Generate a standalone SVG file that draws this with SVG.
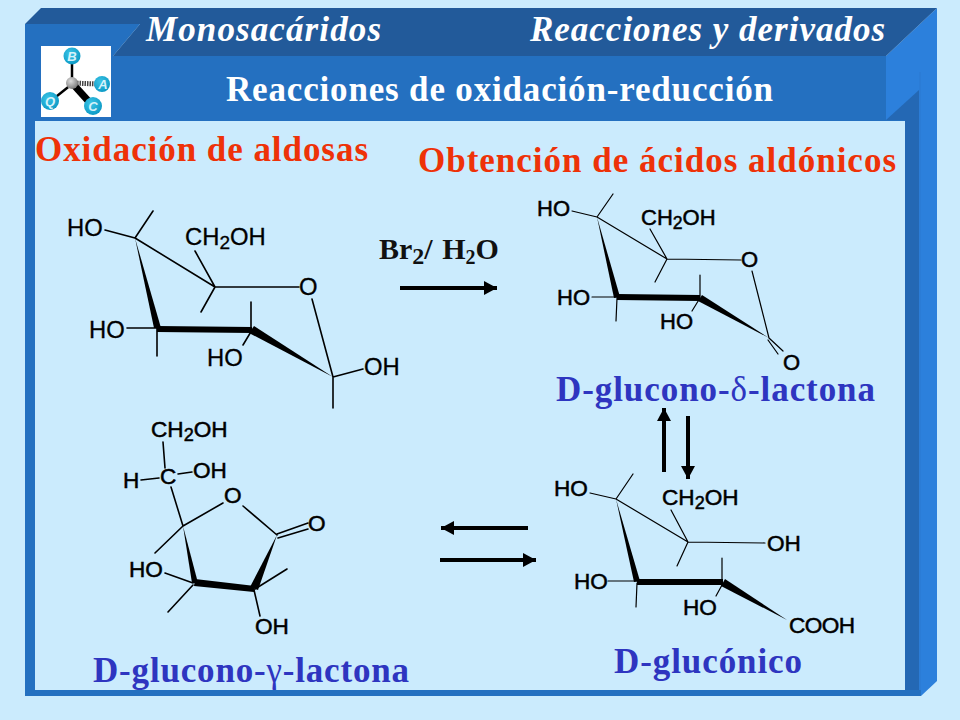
<svg xmlns="http://www.w3.org/2000/svg" width="960" height="720" viewBox="0 0 960 720">
<style>
.s{font-family:"Liberation Serif","Times New Roman",serif;font-weight:bold}
.w{fill:#fff}.wi{fill:#fff;font-style:italic}
.r{fill:#ee3208}.b{fill:#2e35c0}
.g{font-weight:normal}
.c{font-family:"Liberation Sans",Arial,sans-serif;font-size:23.8px;fill:#000;stroke:#000;stroke-width:.3}
.c2{font-size:22px;stroke-width:.5}
.c3{font-size:22.6px;stroke-width:.5}
.sub{font-size:.8em}
.l{stroke:#000;stroke-width:1.6;fill:none;stroke-linecap:round}
.l2{stroke-width:1.2}
.bd{stroke:#000;stroke-width:6;fill:none}
.ar{stroke:#000;stroke-width:4;fill:none}
</style>
<defs>
<marker id="h" markerUnits="userSpaceOnUse" markerWidth="15" markerHeight="16" refX="13" refY="8" orient="auto"><path d="M0 1L13 8L0 15Z" fill="#000"/></marker>
<radialGradient id="ball" cx=".4" cy=".35" r=".7"><stop offset="0" stop-color="#3cc4e6"/><stop offset="1" stop-color="#0a98c4"/></radialGradient>
<radialGradient id="gr" cx=".4" cy=".35" r=".7"><stop offset="0" stop-color="#ddd"/><stop offset="1" stop-color="#777"/></radialGradient>
</defs>
<rect width="960" height="720" fill="#cbebfd"/>
<g id="frame">
<polygon points="886,56 937,8 937,681 921,696 886,696" fill="#2c80dc"/>
<line x1="920" y1="72" x2="920" y2="696" stroke="#2a78d0" stroke-width="1"/>
<polygon points="886,120 919,90 919,696 886,696" fill="#2468b4"/>
<polygon points="25,24 140,24 113,56 886,56 886,120 905,120 905,690 921,690 921,696 25,696" fill="#2470c0"/>
<polygon points="25,24 41,8 937,8 886,56 113,56 140,24" fill="#225a9a"/>
<rect x="35" y="121" width="870" height="569" fill="#cbebfd"/>
</g>
<g id="logo">
<rect x="41" y="46" width="70" height="71" fill="#fff"/>
<line x1="72" y1="84" x2="72" y2="60" stroke="#000" stroke-width="2.5"/>
<line x1="72" y1="84" x2="52" y2="100" stroke="#000" stroke-width="2.5"/>
<polygon points="70,86 75,81 94,102 88,106" fill="#000"/>
<line x1="72" y1="83" x2="98" y2="84" stroke="#444" stroke-width="5" stroke-dasharray="1.5 1"/>
<circle cx="72" cy="56" r="8.5" fill="url(#ball)"/>
<circle cx="102" cy="84" r="8" fill="url(#ball)"/>
<circle cx="50" cy="101" r="9" fill="url(#ball)"/>
<circle cx="93" cy="106" r="9" fill="url(#ball)"/>
<circle cx="72" cy="83" r="6" fill="url(#gr)"/>
<g font-family="Liberation Sans,Arial,sans-serif" font-weight="bold" font-style="italic" font-size="13" fill="#d5f2fa" text-anchor="middle">
<text x="72" y="61">B</text><text x="103" y="89">A</text><text x="50" y="106">Q</text><text x="93" y="111">C</text>
</g>
</g>
<g id="titles" class="s">
<text class="wi" x="146" y="41" font-size="35" textLength="235" lengthAdjust="spacing">Monosacáridos</text>
<text class="wi" x="530" y="41" font-size="35" textLength="355" lengthAdjust="spacing">Reacciones y derivados</text>
<text class="w" x="226" y="101" font-size="35" textLength="547" lengthAdjust="spacing">Reacciones de oxidación-reducción</text>
<text class="r" x="35" y="161" font-size="35" textLength="333" lengthAdjust="spacing">Oxidación de aldosas</text>
<text class="r" x="418" y="172" font-size="35" textLength="478" lengthAdjust="spacing">Obtención de ácidos aldónicos</text>
</g>
<g id="reagent" class="s"><text x="379" y="259" font-size="30" fill="#111" word-spacing="2">Br<tspan class="sub" font-size="20" dy="5">2</tspan><tspan dy="-5">/ H</tspan><tspan font-size="20" dy="5">2</tspan><tspan dy="-5">O</tspan></text></g>
<g id="aldosa">
<g class="l">
<path d="M105 230L135 238M135 238L153 211M135 238L215 287M195 251L215 287M215 287L201 312M215 287H299M127 328H157M157 328V356M251 302V330M252 330L243 345M312 299L333 377M333 377L363 369M333 377V408"/>
</g>
<polygon points="135,238 154,328 161,328" fill="#000"/>
<path class="bd" d="M157 329L252 330"/>
<polygon points="249,333 254,326 333,377" fill="#000"/>
<text class="c" x="67" y="236">HO</text>
<text class="c" x="185" y="245">CH<tspan class="sub" dy="4">2</tspan><tspan dy="-4">OH</tspan></text>
<text class="c" x="299" y="295">O</text>
<text class="c" x="89" y="338">HO</text>
<text class="c" x="207" y="366">HO</text>
<text class="c" x="364" y="375">OH</text>
</g>
<g id="delta-lactona">
<g class="l l2">
<path d="M572 211L597 217M597 217L613 194M597 217L667 259M650 229L667 259M667 259L655 282M667 259L741 260M592 297H617M617 298L616 321M700 275V298M700 298L692 311M752 271L769 338M769 338L783 351M768 340L778 354"/>
</g>
<polygon points="597,217 614,298 620,297" fill="#000"/>
<path class="bd" d="M617 297L700 298"/>
<polygon points="698,301 702,295 769,338" fill="#000"/>
<text class="c c2" x="537" y="216">HO</text>
<text class="c c2" x="641" y="225">CH<tspan class="sub" dy="4">2</tspan><tspan dy="-4">OH</tspan></text>
<text class="c c2" x="741" y="267">O</text>
<text class="c c2" x="557" y="305">HO</text>
<text class="c c2" x="660" y="329">HO</text>
<text class="c c2" x="783" y="370">O</text>
</g>
<text class="s b" x="556" y="401" font-size="35" textLength="319" lengthAdjust="spacing">D-glucono-<tspan class="g">δ</tspan>-lactona</text>
<g id="gamma-lactona">
<g class="l">
<path d="M163 442L165 468M141 480L159 478M178 474L192 472M171 487L183 526M183 526L223 503M243 506L277 535M277 534L308 523M278 538L308 529M255 589L287 569M254 590L260 616M155 553L183 526M165 573L193 583M193 585L168 612"/>
</g>
<polygon points="183,526 192,583 198,583" fill="#000"/>
<polygon points="195,579 194,586 254,592 255,586" fill="#000"/>
<polygon points="277,535 250,587 258,590" fill="#000"/>
<text class="c c3" x="151" y="437">CH<tspan class="sub" dy="4">2</tspan><tspan dy="-4">OH</tspan></text>
<text class="c c3" x="123" y="488">H</text>
<text class="c c3" x="160" y="484">C</text>
<text class="c c3" x="193" y="478">OH</text>
<text class="c c3" x="224" y="503">O</text>
<text class="c c3" x="308" y="531">O</text>
<text class="c c3" x="129" y="577">HO</text>
<text class="c c3" x="255" y="634">OH</text>
</g>
<text class="s b" x="93" y="682" font-size="35" textLength="316" lengthAdjust="spacing">D-glucono-<tspan class="g">γ</tspan>-lactona</text>
<g id="gluconico">
<g class="l l2">
<path d="M590 493L616 499M616 499L633 474M616 499L688 542M671 510L688 542M688 542L677 566M688 542L765 543M608 581H637M637 583L636 607M722 558V582M722 585L716 596"/>
</g>
<polygon points="616,499 634,582 640,581" fill="#000"/>
<path class="bd" d="M637 582L723 582"/>
<polygon points="721,586 725,579 787,620" fill="#000"/>
<text class="c c3" x="554" y="496">HO</text>
<text class="c c3" x="662" y="505">CH<tspan class="sub" dy="4">2</tspan><tspan dy="-4">OH</tspan></text>
<text class="c c3" x="767" y="551">OH</text>
<text class="c c3" x="574" y="589">HO</text>
<text class="c c3" x="683" y="615">HO</text>
<text class="c c3" x="789" y="633" textLength="66">COOH</text>
</g>
<text class="s b" x="614" y="673" font-size="35" textLength="188" lengthAdjust="spacing">D-glucónico</text>
<g id="connectors">
<line class="ar" x1="400" y1="288" x2="497" y2="288" marker-end="url(#h)"/>
<line class="ar" x1="664" y1="472" x2="664" y2="408" marker-end="url(#h)"/>
<line class="ar" x1="688" y1="416" x2="688" y2="479" marker-end="url(#h)"/>
<line class="ar" x1="528" y1="528" x2="441" y2="528" marker-end="url(#h)"/>
<line class="ar" x1="440" y1="560" x2="536" y2="560" marker-end="url(#h)"/>
</g>
</svg>
